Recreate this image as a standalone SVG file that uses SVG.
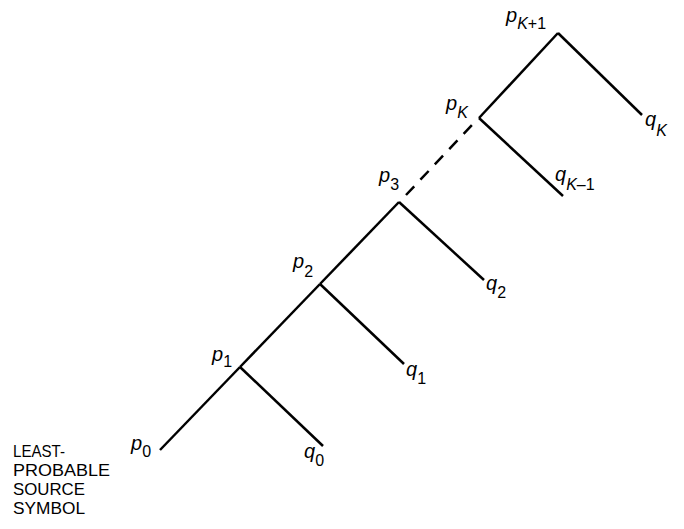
<svg xmlns="http://www.w3.org/2000/svg" width="684" height="529" viewBox="0 0 684 529">
<style>
.ln{stroke:#000;stroke-width:2.5;fill:none;stroke-linecap:butt}
.dash{stroke-dasharray:12 9}
.lb{font-family:"Liberation Sans",Arial,sans-serif;font-size:20px;font-style:italic;fill:#000}
.sb{font-size:16px;font-style:normal}
.it{font-style:italic}
.cap{font-family:"Liberation Sans",Arial,sans-serif;font-size:16.5px;fill:#000}
</style>
<rect width="684" height="529" fill="#fff"/>
<g id="connectors">
<line class="ln" x1="160" y1="450" x2="240" y2="367"/>
<line class="ln" x1="240" y1="367" x2="320" y2="284"/>
<line class="ln" x1="320" y1="284" x2="399" y2="202"/>
<line class="ln dash" x1="406" y1="195" x2="472" y2="125"/>
<line class="ln" x1="479" y1="118" x2="558" y2="33"/>
<line class="ln" x1="240" y1="367" x2="323" y2="446"/>
<line class="ln" x1="320" y1="284" x2="404" y2="364"/>
<line class="ln" x1="399" y1="202" x2="484" y2="280"/>
<line class="ln" x1="479" y1="118" x2="563" y2="196"/>
<line class="ln" x1="558" y1="33" x2="642" y2="115"/>
</g>
<g id="source">
<text class="cap" x="13" y="457" textLength="52" lengthAdjust="spacingAndGlyphs">LEAST-</text>
<text class="cap" x="13" y="476" textLength="97" lengthAdjust="spacingAndGlyphs">PROBABLE</text>
<text class="cap" x="13" y="495" textLength="72" lengthAdjust="spacingAndGlyphs">SOURCE</text>
<text class="cap" x="13" y="514" textLength="72" lengthAdjust="spacingAndGlyphs">SYMBOL</text>
</g>
<g id="p0"><text class="lb" x="131" y="450">p<tspan class="sb" dy="7">0</tspan></text></g>
<g id="q0"><text class="lb" x="304" y="458">q<tspan class="sb" dy="8">0</tspan></text></g>
<g id="p1"><text class="lb" x="212" y="361">p<tspan class="sb" dy="6">1</tspan></text></g>
<g id="q1"><text class="lb" x="406" y="376">q<tspan class="sb" dy="8">1</tspan></text></g>
<g id="p2"><text class="lb" x="293" y="268">p<tspan class="sb" dy="9">2</tspan></text></g>
<g id="q2"><text class="lb" x="486" y="290">q<tspan class="sb" dy="8">2</tspan></text></g>
<g id="p3"><text class="lb" x="379" y="182">p<tspan class="sb" dy="8">3</tspan></text></g>
<g id="qKm1"><text class="lb" x="555" y="181">q<tspan class="sb" dy="9"><tspan class="it">K</tspan>–1</tspan></text></g>
<g id="pK"><text class="lb" x="446" y="110">p<tspan class="sb it" dy="8">K</tspan></text></g>
<g id="qK"><text class="lb" x="645" y="126">q<tspan class="sb it" dy="10">K</tspan></text></g>
<g id="pK1"><text class="lb" x="506" y="22">p<tspan class="sb" dy="7"><tspan class="it">K</tspan>+1</tspan></text></g>
</svg>
